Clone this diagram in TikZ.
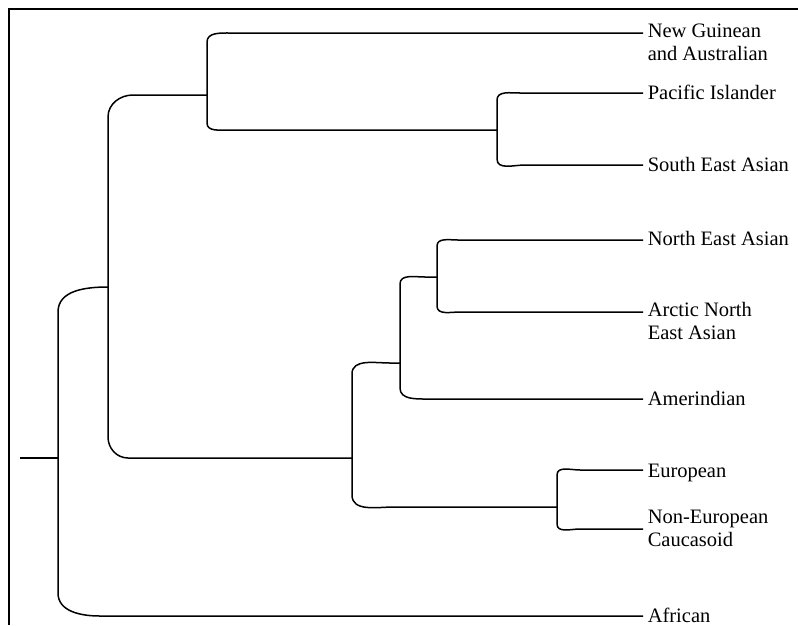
\documentclass[tikz,border=0pt]{standalone}
\usepackage{fontspec}
\setmainfont{Liberation Serif}
\usetikzlibrary{positioning}

\newcommand{\twolines}[2]{\begin{tabular}[t]{@{}l@{}}#1\\#2\end{tabular}}

\begin{document}
\begin{tikzpicture}[x=1pt, y=-1pt, line width=1.5pt,
  font=\fontsize{20.5}{23.5}\selectfont,
  leaf/.style={anchor=base west, inner sep=0pt, xshift=4pt, yshift=#1},
  leaf/.default=-6pt]
\useasboundingbox (0,0) rectangle (798,625);
% frame
\draw [line width=1.7pt] (9,625) -- (9,9) -- (798,9);

% ends of the branches
\coordinate (ng) at (643,33);
\coordinate (pi) at (643,93);
\coordinate (sea) at (643,165);
\coordinate (nea) at (643,240);
\coordinate (ane) at (643,312);
\coordinate (ami) at (643,399);
\coordinate (eur) at (643,470);
\coordinate (nec) at (643,529);
\coordinate (afr) at (643,616);

% joins of the forks
\coordinate (r0) at (20,458);
\coordinate (kR) at (58,458);
\coordinate (kA) at (108,287);
\coordinate (kB) at (207,95);
\coordinate (kC) at (352,458);
\coordinate (kD) at (497,130);
\coordinate (kE) at (400,363);
\coordinate (kF) at (437,277);
\coordinate (kG) at (557,507);

% forks
\draw (r0) -- (kR);
\draw (kA) to[out=180,in=90] (58,312) -- (58,593) to[out=-90,in=180] (100,616) -- (afr);
\draw (kB) -- (133,95) to[out=180,in=90] (108,117) -- (108,437) to[out=-90,in=180] (128,458) -- (kC);
\draw (ng) -- (230,33) to[out=180,in=90] (207,42) -- (207,123) to[out=-90,in=180] (228,130) -- (kD);
\draw (pi) -- (520,93) to[out=180,in=90] (497,100) -- (497,159) to[out=-90,in=180] (525,165) -- (sea);
\draw (kE) -- (390,363) to[out=180,in=90] (352,374) -- (352,495) to[out=-90,in=180] (394,507) -- (kG);
\draw (kF) -- (425,277) to[out=180,in=90] (400,284) -- (400,388) to[out=-90,in=180] (428,399) -- (ami);
\draw (nea) -- (458,240) to[out=180,in=90] (437,246) -- (437,306) to[out=-90,in=180] (460,312) -- (ane);
\draw (eur) -- (580,470) to[out=180,in=90] (557,475) -- (557,524) to[out=-90,in=180] (580,529) -- (nec);

% labels
\node[leaf=-4pt] (ng-txt) at (ng) {\twolines{New Guinean}{and Australian}};
\node[leaf] (pi-txt) at (pi) {Pacific Islander};
\node[leaf] (sea-txt) at (sea) {South East Asian};
\node[leaf=-5pt] (nea-txt) at (nea) {North East Asian};
\node[leaf=-4pt] (ane-txt) at (ane) {\twolines{Arctic North}{East Asian}};
\node[leaf] (ami-txt) at (ami) {Amerindian};
\node[leaf=-7pt] (eur-txt) at (eur) {European};
\node[leaf=6pt] (nec-txt) at (nec) {\twolines{Non-European}{Caucasoid}};
\node[leaf] (afr-txt) at (afr) {African};
\end{tikzpicture}
\end{document}
